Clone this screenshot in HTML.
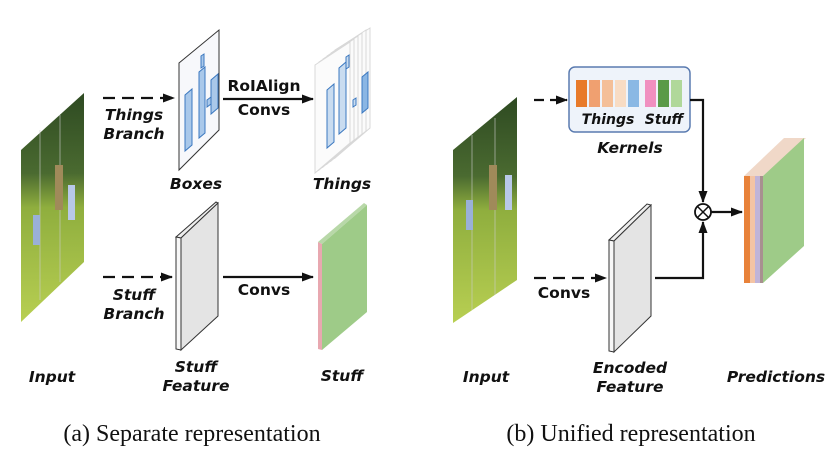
<!DOCTYPE html>
<html><head><meta charset="utf-8"><style>
html,body{margin:0;padding:0;background:#fff;}
svg{display:block;}
.l{font-family:"DejaVu Sans","Liberation Sans",sans-serif;font-weight:bold;font-style:italic;font-size:15.5px;fill:#111;text-anchor:middle;}
.c{font-family:"DejaVu Sans","Liberation Sans",sans-serif;font-weight:bold;font-size:15.5px;fill:#111;text-anchor:middle;}
.cap{font-family:"Liberation Serif",serif;font-size:24px;fill:#111;text-anchor:middle;}
</style></head><body>
<svg width="834" height="466" viewBox="0 0 834 466" xmlns="http://www.w3.org/2000/svg">
<defs>
<marker id="ah" markerWidth="12" markerHeight="9" refX="11" refY="4.5" orient="auto" markerUnits="userSpaceOnUse">
<path d="M0,0 L12,4.5 L0,9 z" fill="#111"/></marker>
<linearGradient id="photo" x1="0" y1="0" x2="0" y2="1">
<stop offset="0" stop-color="#2e4a22"/><stop offset="0.35" stop-color="#4a6a30"/>
<stop offset="0.5" stop-color="#8fae3e"/><stop offset="1" stop-color="#b8cf52"/></linearGradient>
</defs>

<!-- (a) Input -->
<polygon points="21,150 84,93 84,262 21,322" fill="url(#photo)"/>
<line x1="40" y1="130" x2="40" y2="300" stroke="#ccc" stroke-width="1" opacity=".6"/>
<line x1="60" y1="115" x2="60" y2="282" stroke="#ccc" stroke-width="1" opacity=".6"/>
<rect x="33" y="215" width="7" height="30" fill="#9ab0d8"/>
<rect x="55" y="165" width="8" height="45" fill="#a08a5a"/>
<rect x="68" y="185" width="7" height="35" fill="#b8c8e8"/>
<text class="l" x="52" y="382">Input</text>

<!-- things branch -->
<line x1="103" y1="98" x2="174" y2="98" stroke="#111" stroke-width="2.2" stroke-dasharray="12,7" marker-end="url(#ah)"/>
<text class="l" x="134" y="120">Things</text>
<text class="l" x="134" y="139">Branch</text>
<polygon points="179,63 219,30 219,130 179,170" fill="#f7f8fb" stroke="#333" stroke-width="1"/>
<g fill="#a9c8ea" stroke="#3b78c0" stroke-width="1">
<polygon points="185,95 192,89 192,145 185,151"/>
<polygon points="199,72 205,67 205,133 199,138"/>
<polygon points="201,56 204,54 204,66 201,68"/>
<polygon points="211,80 218,74 218,108 211,114"/>
<polygon points="207,100 211,97 211,104 207,107"/>
</g>
<text class="l" x="196" y="189">Boxes</text>
<line x1="223" y1="99" x2="313" y2="99" stroke="#111" stroke-width="2.2" marker-end="url(#ah)"/>
<text class="c" x="264" y="91">RoIAlign</text>
<text class="c" x="264" y="115">Convs</text>
<g fill="#fbfbfb" stroke="#d8d8d8" stroke-width="1">
<polygon points="335,50 370,28 370,128 335,158"/>
<polygon points="331,53 366,30 366,131 331,161"/>
<polygon points="327,56 362,33 362,134 327,164"/>
<polygon points="323,59 358,36 358,137 323,167"/>
<polygon points="319,62 354,39 354,140 319,170"/>
<polygon points="315,65 350,42 350,143 315,173"/>
</g>
<g fill="#c9dcf0" stroke="#3b78c0" stroke-width="1">
<polygon points="327,90 334,84 334,142 327,148"/>
<polygon points="339,68 346,62 346,128 339,134"/>
<polygon points="346,57 349,55 349,67 346,69"/>
<polygon points="353,100 356,98 356,105 353,107"/>
<polygon points="362,77 368,72 368,108 362,113" fill="#8ab6e4"/>
</g>
<text class="l" x="342" y="189">Things</text>

<!-- stuff branch -->
<line x1="103" y1="277" x2="172" y2="277" stroke="#111" stroke-width="2.2" stroke-dasharray="12,7" marker-end="url(#ah)"/>
<text class="l" x="134" y="300">Stuff</text>
<text class="l" x="134" y="319">Branch</text>
<polygon points="176,237 216,202 218,203 181,238" fill="#eee" stroke="#333" stroke-width="1"/>
<polygon points="176,237 181,238 181,350 176,349" fill="#f7f7f7" stroke="#333" stroke-width="1"/>
<polygon points="181,238 218,203 218,316 181,350" fill="#e4e4e4" stroke="#333" stroke-width="1"/>
<text class="l" x="196" y="372">Stuff</text>
<text class="l" x="196" y="391">Feature</text>
<line x1="223" y1="277" x2="313" y2="277" stroke="#111" stroke-width="2.2" marker-end="url(#ah)"/>
<text class="c" x="264" y="295">Convs</text>
<polygon points="318,242 364,203 367,205 322,244" fill="#b8d8a8"/>
<polygon points="318,242 322,244 322,350 318,349" fill="#e8a8b0"/>
<polygon points="322,244 367,205 367,312 322,350" fill="#9ecb88"/>
<text class="l" x="342" y="381">Stuff</text>

<!-- (b) Input -->
<polygon points="453,150 517,97 517,280 453,323" fill="url(#photo)"/>
<line x1="472" y1="135" x2="472" y2="310" stroke="#ccc" stroke-width="1" opacity=".6"/>
<line x1="495" y1="118" x2="495" y2="295" stroke="#ccc" stroke-width="1" opacity=".6"/>
<rect x="466" y="200" width="7" height="30" fill="#9ab0d8"/>
<rect x="489" y="165" width="8" height="45" fill="#a08a5a"/>
<rect x="505" y="175" width="7" height="35" fill="#b8c8e8"/>
<text class="l" x="486" y="382">Input</text>

<line x1="534" y1="100" x2="567" y2="100" stroke="#111" stroke-width="2.2" stroke-dasharray="10,6" marker-end="url(#ah)"/>
<rect x="569" y="67" width="121" height="65" rx="6" fill="#eef3fa" stroke="#5a7bb0" stroke-width="1.5"/>
<g>
<rect x="576" y="80" width="11" height="27" fill="#e87a2a"/>
<rect x="589" y="80" width="11" height="27" fill="#f0a070"/>
<rect x="602" y="80" width="11" height="27" fill="#f4bf98"/>
<rect x="615" y="80" width="11" height="27" fill="#f8dcc4"/>
<rect x="628" y="80" width="11" height="27" fill="#8ab8e4"/>
<rect x="645" y="80" width="11" height="27" fill="#f090c0"/>
<rect x="658" y="80" width="11" height="27" fill="#5a9a48"/>
<rect x="671" y="80" width="11" height="27" fill="#b0d89a"/>
</g>
<text class="l" x="608" y="124" style="font-size:14px">Things</text>
<text class="l" x="664" y="124" style="font-size:14px">Stuff</text>
<text class="l" x="630" y="153">Kernels</text>

<polyline points="690,100 703,100 703,202" fill="none" stroke="#111" stroke-width="2.2" marker-end="url(#ah)"/>
<circle cx="703" cy="212" r="8" fill="#fff" stroke="#111" stroke-width="1.8"/>
<line x1="697.5" y1="206.5" x2="708.5" y2="217.5" stroke="#111" stroke-width="1.5"/>
<line x1="708.5" y1="206.5" x2="697.5" y2="217.5" stroke="#111" stroke-width="1.5"/>
<line x1="711" y1="212" x2="742" y2="212" stroke="#111" stroke-width="2.2" marker-end="url(#ah)"/>

<line x1="534" y1="278" x2="606" y2="278" stroke="#111" stroke-width="2.2" stroke-dasharray="12,7" marker-end="url(#ah)"/>
<text class="c" x="564" y="298">Convs</text>
<polygon points="609,240 647,204 651,205 614,241" fill="#eee" stroke="#333" stroke-width="1"/>
<polygon points="609,240 614,241 614,352 609,351" fill="#f7f7f7" stroke="#333" stroke-width="1"/>
<polygon points="614,241 651,205 651,316 614,352" fill="#e4e4e4" stroke="#333" stroke-width="1"/>
<polyline points="655,278 703,278 703,222" fill="none" stroke="#111" stroke-width="2.2" marker-end="url(#ah)"/>
<text class="l" x="630" y="373">Encoded</text>
<text class="l" x="630" y="392">Feature</text>

<!-- predictions -->
<polygon points="744,176 784,138 806,138 763,176" fill="#f0d8c8"/>
<polygon points="744,176 750,176 750,283 744,283" fill="#e8823a"/>
<polygon points="750,176 755,176 755,283 750,283" fill="#f4c4a4"/>
<polygon points="755,176 760,176 760,283 755,283" fill="#c0b4d8"/>
<polygon points="760,176 763,176 763,283 760,283" fill="#a89090"/>
<polygon points="763,176 804,138 804,246 763,283" fill="#9ecb88"/>
<text class="l" x="776" y="382">Predictions</text>

<text class="cap" x="192" y="441">(a)  Separate representation</text>
<text class="cap" x="631" y="441">(b)  Unified representation</text>
</svg>
</body></html>
